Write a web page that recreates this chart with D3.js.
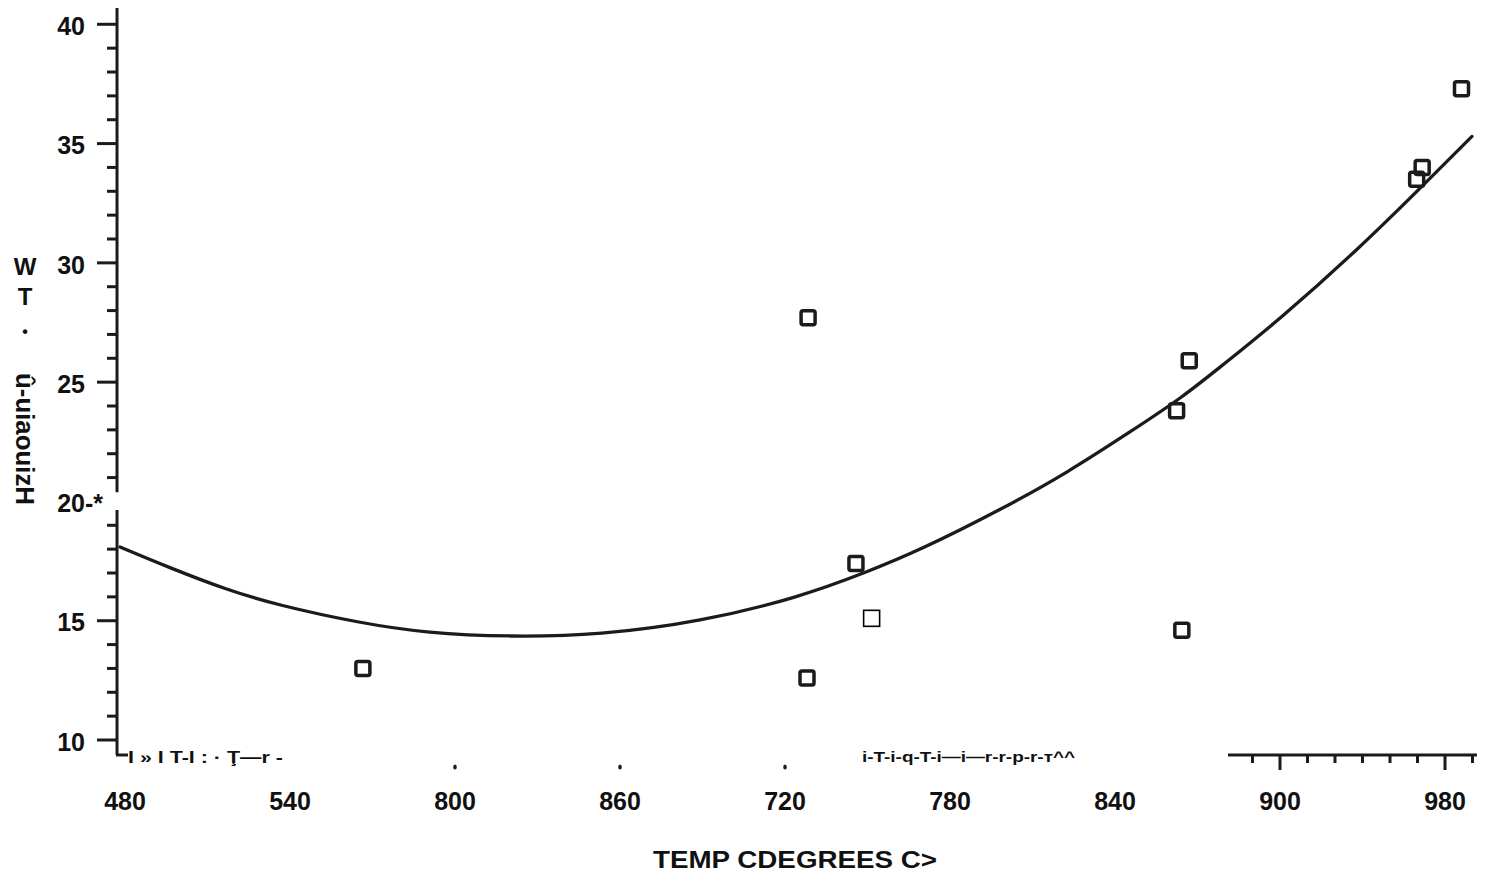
<!DOCTYPE html>
<html>
<head>
<meta charset="utf-8">
<script src="https://cdn.jsdelivr.net/npm/d3@7"></script>
<style>
  body { margin: 0; background: #fff; }
  svg text { font-family: "Liberation Sans", Arial, sans-serif; font-weight: bold; fill: #111; }
</style>
</head>
<body>
<svg id="chart" width="1487" height="881"></svg>
<script>
// Measured samples: temperature (deg C) vs weight percent
const tempC  = [566.5, 728.4, 728.0, 745.8, 862.4, 867.0, 864.3, 949.7, 951.7, 966.0];
const wtPct  = [13.0, 27.7, 12.6, 17.4, 23.8, 25.9, 14.6, 33.5, 34.0, 37.3];
// Sample drawn with a plain outline
const openTempC = [751.5];
const openWtPct = [15.1];
// Fitted trend curve
const fitTempC = [478.2, 496.4, 517.1, 535.3, 565.5, 589.8, 620.0, 652.7, 689.1, 725.5, 749.8, 769.1, 798.2, 822.5, 846.5, 864.7, 878.2, 900.0, 929.1, 953.5, 969.8];
const fitWtPct = [18.09, 17.21, 16.29, 15.66, 14.90, 14.48, 14.32, 14.40, 14.95, 15.99, 17.04, 17.96, 19.64, 21.19, 22.99, 24.38, 25.63, 27.64, 30.64, 33.42, 35.30];
// Axis ticks and labels
const xTickValues = [480, 540, 600, 660, 720, 780, 840, 900, 960];
const xTickLabels = ["480", "540", "800", "860", "720", "780", "840", "900", "980"];
const yTickValues = [10, 15, 20, 25, 30, 35, 40];
const yTickLabels = ["10", "15", "20-*", "25", "30", "35", "40"];
const yTitleUpright = ["W", "T", "•"];
const yTitleRotated = "û-uiaouizH";
const xTitle = "TEMP CDEGREES C>";
const axisScrapLeft = "I » I T-I : · Ţ—r -";
const axisScrapMid = "i-T-i-q-T-i—i—r-r-p-r-т^^";

const ink = "#1b1b1b";
const svg = d3.select("#chart");

const x = d3.scaleLinear().domain([480, 960]).range([125, 1445]);
const y = d3.scaleLinear().domain([10, 40]).range([740, 24.3]);

// ---- Y axis ----
const axisX = x(477.1);
const gy = svg.append("g");
// axis line, broken around 20
[[40.68, 20.39], [19.64, 9.37]].forEach(([a, b]) => {
  gy.append("line").attr("x1", axisX).attr("x2", axisX)
    .attr("y1", y(a)).attr("y2", y(b))
    .attr("stroke", ink).attr("stroke-width", 3);
});
// minor ticks at each unit
d3.range(11, 40).filter(v => v % 5 !== 0).forEach(v => {
  gy.append("line").attr("x1", axisX - 10).attr("x2", axisX + 1)
    .attr("y1", y(v)).attr("y2", y(v))
    .attr("stroke", ink).attr("stroke-width", 3);
});
// major ticks and labels
yTickValues.forEach((v, i) => {
  const lab = yTickLabels[i];
  const m = lab.match(/^(\d+)(.*)$/);
  if (m[2] === "") {
    gy.append("line").attr("x1", axisX - 20).attr("x2", axisX)
      .attr("y1", y(v)).attr("y2", y(v))
      .attr("stroke", ink).attr("stroke-width", 3);
  }
  gy.append("text").attr("x", 85).attr("y", y(v) + 10.7)
    .attr("text-anchor", "end").attr("font-size", 25).text(m[1]);
  if (m[2] !== "") {
    gy.append("text").attr("x", 85).attr("y", y(v) + 10.7)
      .attr("font-size", 25).text(m[2]);
  }
});

// ---- Y title ----
const uprightY = [275, 305, 337];
yTitleUpright.forEach((t, i) => {
  svg.append("text").attr("x", 25).attr("y", uprightY[i])
    .attr("text-anchor", "middle")
    .attr("font-size", i === 2 ? 16 : 24).text(t);
});
svg.append("text")
  .attr("transform", "translate(16,373) rotate(90)")
  .attr("font-size", 25)
  .attr("textLength", 132).attr("lengthAdjust", "spacingAndGlyphs")
  .text(yTitleRotated);

// ---- X axis (only partly printed) ----
const axisY = 755;
const gx = svg.append("g");
// corner stub at the origin
gx.append("line").attr("x1", axisX - 1).attr("x2", axisX + 11)
  .attr("y1", axisY).attr("y2", axisY).attr("stroke", ink).attr("stroke-width", 3);
gx.append("text").attr("x", axisX + 11).attr("y", 763)
  .attr("font-size", 16).attr("textLength", 155).attr("lengthAdjust", "spacingAndGlyphs")
  .text(axisScrapLeft);
gx.append("text").attr("x", x(748)).attr("y", 762)
  .attr("font-size", 15).attr("textLength", 213).attr("lengthAdjust", "spacingAndGlyphs")
  .text(axisScrapMid);
// right-hand axis segment with ticks
gx.append("line").attr("x1", x(881.1)).attr("x2", x(971.6))
  .attr("y1", axisY).attr("y2", axisY).attr("stroke", ink).attr("stroke-width", 3);
d3.range(890, 971, 10).forEach(v => {
  const major = xTickValues.includes(v);
  gx.append("line").attr("x1", x(v)).attr("x2", x(v))
    .attr("y1", axisY).attr("y2", axisY + (major ? 15 : 8))
    .attr("stroke", ink).attr("stroke-width", 3);
});
// stray tick remnants
[600, 660, 720].forEach(v => {
  gx.append("ellipse").attr("cx", x(v)).attr("cy", 767)
    .attr("rx", 1.8).attr("ry", 2.6).attr("fill", ink);
});
// tick labels
xTickValues.forEach((v, i) => {
  gx.append("text").attr("x", x(v)).attr("y", 810)
    .attr("text-anchor", "middle").attr("font-size", 25).text(xTickLabels[i]);
});
// x title
svg.append("text").attr("x", 653).attr("y", 868)
  .attr("font-size", 24).attr("textLength", 284).attr("lengthAdjust", "spacingAndGlyphs")
  .text(xTitle);

// ---- fitted curve ----
const fit = fitTempC.map((t, i) => [t, fitWtPct[i]]);
svg.append("path")
  .attr("d", d3.line().x(d => x(d[0])).y(d => y(d[1])).curve(d3.curveBasis)(fit))
  .attr("fill", "none").attr("stroke", ink).attr("stroke-width", 3.3)
  .attr("stroke-linecap", "round");

// ---- sample markers ----
const s = 14;
svg.append("g").selectAll("rect")
  .data(tempC.map((t, i) => [t, wtPct[i]]))
  .join("rect")
  .attr("x", d => x(d[0]) - s / 2).attr("y", d => y(d[1]) - s / 2)
  .attr("width", s).attr("height", s).attr("rx", 2)
  .attr("fill", "none").attr("stroke", ink).attr("stroke-width", 3.5);

const so = 16;
svg.append("g").selectAll("rect")
  .data(openTempC.map((t, i) => [t, openWtPct[i]]))
  .join("rect")
  .attr("x", d => x(d[0]) - so / 2).attr("y", d => y(d[1]) - so / 2)
  .attr("width", so).attr("height", so)
  .attr("fill", "none").attr("stroke", "#000").attr("stroke-width", 1.6);
</script>
</body>
</html>
